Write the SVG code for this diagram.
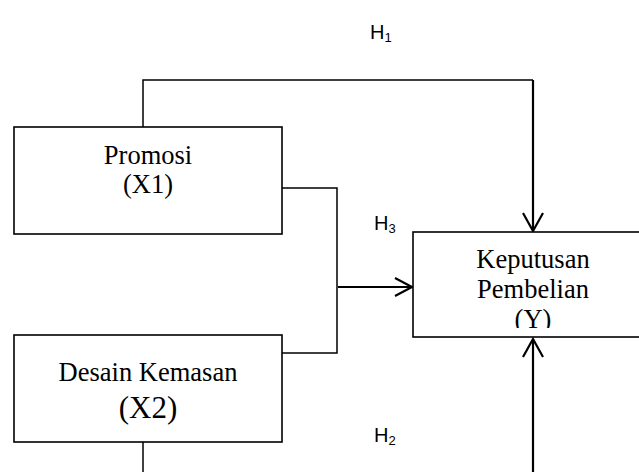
<svg xmlns="http://www.w3.org/2000/svg" width="639" height="472" viewBox="0 0 639 472">
<style>
.box{fill:#fff;stroke:#000;stroke-width:1.6}
.t{font-family:"Liberation Serif","Times New Roman",serif;font-size:26.5px;fill:#000;text-anchor:middle}
.h{font-family:"Liberation Sans",Arial,sans-serif;font-size:20px;fill:#000}
.hs{font-size:13px}
.thin{fill:none;stroke:#000;stroke-width:1.5}
.thick{fill:none;stroke:#000;stroke-width:2.2}
.head{fill:none;stroke:#000;stroke-width:2.2}
</style>
<defs>
<clipPath id="kclip"><rect x="413" y="232" width="240" height="96"/></clipPath>
</defs>
<g id="connectors">
<path class="thin" d="M143,127 V80 H533"/>
<path class="thick" d="M533,80 V230"/>
<path class="head" d="M523,213 L533,231 L543,213"/>
<path class="thin" d="M282,188 H337 V353 H282"/>
<path class="thick" d="M338,287 H411"/>
<path class="head" d="M395,278 L412,287 L395,296"/>
<path class="thin" d="M143,442 V472"/>
<path class="thick" d="M533,472 V340"/>
<path class="head" d="M523,357 L533,339 L543,357"/>
</g>
<g id="labels">
<text class="h" x="370" y="39">H<tspan class="hs" dy="3">1</tspan></text>
<text class="h" x="374" y="230">H<tspan class="hs" dy="3">3</tspan></text>
<text class="h" x="374" y="442">H<tspan class="hs" dy="3">2</tspan></text>
</g>
<g id="promosi">
<rect class="box" x="14" y="127" width="268" height="107"/>
<text class="t" x="148" y="164">Promosi</text>
<text class="t" x="148" y="193">(X1)</text>
</g>
<g id="desain">
<rect class="box" x="14" y="335" width="268" height="107"/>
<text class="t" x="148" y="381">Desain Kemasan</text>
<text class="t" x="148" y="418" style="font-size:31px">(X2)</text>
</g>
<g id="keputusan">
<rect class="box" x="413" y="232" width="240" height="105"/>
<g clip-path="url(#kclip)">
<text class="t" x="533" y="268">Keputusan</text>
<text class="t" x="533" y="298">Pembelian</text>
<text class="t" x="533" y="328">(Y)</text>
</g>
</g>
</svg>
